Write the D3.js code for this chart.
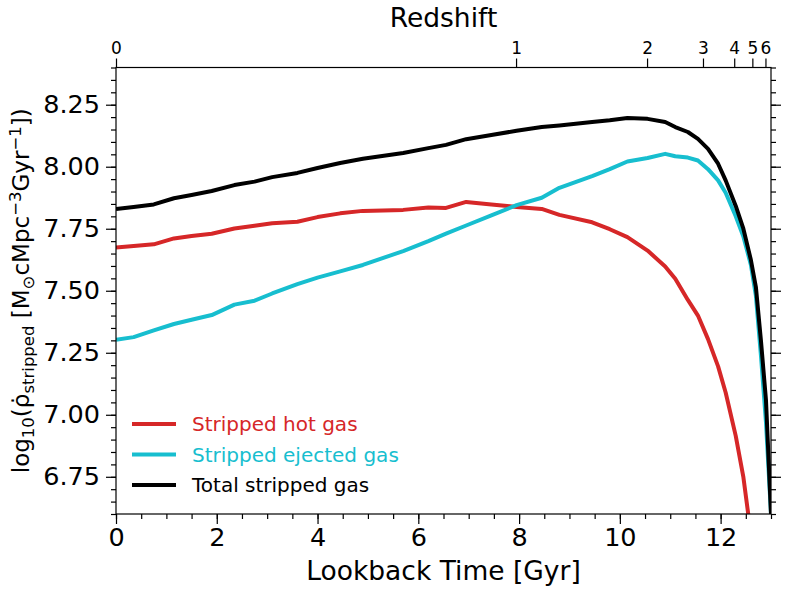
<!DOCTYPE html>
<html>
<head>
<meta charset="utf-8">
<script src="https://cdn.jsdelivr.net/npm/d3@7"></script>
<style>
  body { margin: 0; background: #fff; }
  text { font-family: "DejaVu Sans", sans-serif; }
  .axis path { display: none; }
  .axis line { stroke: #000; stroke-width: 1.2; }
</style>
</head>
<body>
<script>
// data
var lookback = [0, 0.35, 0.75, 1.15, 1.5, 1.9, 2.35, 2.75, 3.1, 3.6, 4.0, 4.45, 4.9, 5.7, 6.2, 6.55, 6.95, 7.45, 7.95, 8.45, 8.8, 9.45, 9.8, 10.15, 10.55, 10.9, 11.1, 11.35, 11.55, 11.75, 11.95, 12.1, 12.3, 12.45, 12.6, 12.7, 12.8, 12.9, 13.0];
var hotGas = [7.674, 7.680, 7.687, 7.711, 7.721, 7.730, 7.751, 7.762, 7.772, 7.778, 7.797, 7.812, 7.822, 7.826, 7.836, 7.834, 7.858, 7.848, 7.838, 7.830, 7.806, 7.776, 7.748, 7.716, 7.662, 7.598, 7.548, 7.463, 7.400, 7.305, 7.195, 7.090, 6.915, 6.751, 6.52, null, null, null, null];
var ejectedGas = [7.302, 7.313, 7.340, 7.366, 7.383, 7.402, 7.444, 7.460, 7.489, 7.527, 7.553, 7.578, 7.604, 7.660, 7.700, 7.730, 7.763, 7.804, 7.845, 7.875, 7.915, 7.962, 7.990, 8.021, 8.035, 8.052, 8.042, 8.037, 8.025, 7.990, 7.945, 7.895, 7.800, 7.720, 7.605, 7.480, 7.240, 6.970, 6.600];
var totalGas = [7.829, 7.838, 7.848, 7.873, 7.886, 7.902, 7.926, 7.940, 7.958, 7.975, 7.995, 8.015, 8.032, 8.055, 8.075, 8.088, 8.111, 8.128, 8.145, 8.160, 8.166, 8.180, 8.187, 8.196, 8.193, 8.180, 8.160, 8.140, 8.112, 8.072, 8.012, 7.945, 7.842, 7.751, 7.625, 7.515, 7.300, 7.060, 6.600];

var redshiftLabels = ["0", "1", "2", "3", "4", "5", "6"];
var redshiftLookback = [0, 7.94, 10.54, 11.65, 12.27, 12.63, 12.89];
var xTicks = [0, 2, 4, 6, 8, 10, 12];
var yTicks = [6.75, 7.00, 7.25, 7.50, 7.75, 8.00, 8.25];

var series = [
  {name: "Stripped hot gas", values: hotGas, color: "#d62728"},
  {name: "Stripped ejected gas", values: ejectedGas, color: "#17becf"},
  {name: "Total stripped gas", values: totalGas, color: "#000000"}
];

var W = 789, H = 592;
var margin = {top: 67.5, right: 18, bottom: 78, left: 116};
var width = W - margin.left - margin.right,
    height = H - margin.top - margin.bottom;

var x = d3.scaleLinear().domain([0, 13]).range([0, width]);
var y = d3.scaleLinear().domain([6.6, 8.4]).range([height, 0]);

var svg = d3.select("body").append("svg")
    .attr("width", W)
    .attr("height", H);

var g = svg.append("g")
    .attr("transform", "translate(" + margin.left + "," + margin.top + ")");

g.append("clipPath").attr("id", "clip")
  .append("rect").attr("width", width).attr("height", height);

// lines
var line = d3.line()
    .defined(function(d) { return d[1] !== null; })
    .x(function(d) { return x(d[0]); })
    .y(function(d) { return y(d[1]); });

series.forEach(function(s) {
  var pts = lookback.map(function(t, i) { return [t, s.values[i]]; });
  g.append("path")
    .attr("clip-path", "url(#clip)")
    .attr("d", line(pts))
    .attr("fill", "none")
    .attr("stroke", s.color)
    .attr("stroke-width", 4)
    .attr("stroke-linejoin", "round");
});

// minor ticks
var xMinor = d3.range(0, 13.01, 0.5);
var yMinor = d3.range(6.6, 8.401, 0.05);

g.append("g").attr("class", "axis")
  .attr("transform", "translate(0," + height + ")")
  .call(d3.axisBottom(x).tickValues(xMinor).tickSize(5).tickFormat(""));
g.append("g").attr("class", "axis")
  .call(d3.axisLeft(y).tickValues(yMinor).tickSize(5).tickFormat(""));
g.append("g").attr("class", "axis")
  .attr("transform", "translate(" + width + ",0)")
  .call(d3.axisRight(y).tickValues(yMinor).tickSize(5).tickFormat(""));

// major ticks
var xAxis = g.append("g").attr("class", "axis")
  .attr("transform", "translate(0," + height + ")")
  .call(d3.axisBottom(x).tickValues(xTicks).tickSize(10).tickPadding(4).tickFormat(d3.format("d")));
xAxis.selectAll("text").attr("font-size", 25.5).attr("fill", "#000");

var yAxis = g.append("g").attr("class", "axis")
  .call(d3.axisLeft(y).tickValues(yTicks).tickSize(10).tickPadding(6).tickFormat(d3.format(".2f")));
yAxis.selectAll("text").attr("font-size", 25.5).attr("fill", "#000");

g.append("g").attr("class", "axis")
  .attr("transform", "translate(" + width + ",0)")
  .call(d3.axisRight(y).tickValues(yTicks).tickSize(10).tickFormat(""));

// redshift axis on top
var zAxis = g.append("g").attr("class", "axis")
  .call(d3.axisTop(x).tickValues(redshiftLookback).tickSize(9).tickPadding(5)
    .tickFormat(function(d, i) { return redshiftLabels[i]; }));
zAxis.selectAll("text").attr("font-size", 17).attr("fill", "#000");

// frame
g.append("rect")
  .attr("width", width).attr("height", height)
  .attr("fill", "none").attr("stroke", "#000").attr("stroke-width", 1.2);

// axis titles
svg.append("text")
  .attr("x", margin.left + width / 2).attr("y", 580)
  .attr("text-anchor", "middle").attr("font-size", 26.5)
  .text("Lookback Time [Gyr]");

svg.append("text")
  .attr("x", margin.left + width / 2).attr("y", 27)
  .attr("text-anchor", "middle").attr("font-size", 26.5)
  .text("Redshift");

var ylab = svg.append("text")
  .attr("transform", "translate(29," + (margin.top + height / 2) + ") rotate(-90)")
  .attr("text-anchor", "middle").attr("font-size", 23);
ylab.append("tspan").text("log");
ylab.append("tspan").attr("font-size", 16.5).attr("dy", 5).text("10");
ylab.append("tspan").attr("dy", -5).text("(\u03C1\u0307");
ylab.append("tspan").attr("font-size", 16.5).attr("dy", 5).text("stripped");
ylab.append("tspan").attr("dy", -5).text(" [M");
ylab.append("tspan").attr("font-size", 16.5).attr("dy", 5).text("\u2299");
ylab.append("tspan").attr("dy", -5).text("cMpc");
ylab.append("tspan").attr("font-size", 16.5).attr("dy", -8).text("\u22123");
ylab.append("tspan").attr("dy", 8).text("Gyr");
ylab.append("tspan").attr("font-size", 16.5).attr("dy", -8).text("\u22121");
ylab.append("tspan").attr("dy", 8).text("])");

// legend
var legend = svg.append("g");
series.forEach(function(s, i) {
  var ly = 424 + i * 30.5;
  legend.append("line")
    .attr("x1", 132).attr("x2", 176).attr("y1", ly).attr("y2", ly)
    .attr("stroke", s.color).attr("stroke-width", 4);
  legend.append("text")
    .attr("x", 192).attr("y", ly).attr("dy", "0.35em")
    .attr("font-size", 20).attr("fill", s.color)
    .text(s.name);
});
</script>
</body>
</html>
